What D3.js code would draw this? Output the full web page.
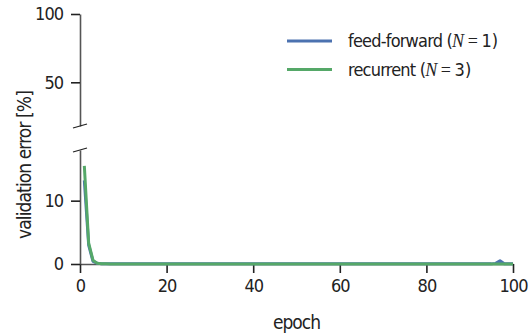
<!DOCTYPE html>
<html>
<head>
<meta charset="utf-8">
<script src="https://cdn.jsdelivr.net/npm/d3@7"></script>
<style>
  body { margin: 0; background: #fff; }
  svg text { font-family: "DejaVu Sans", sans-serif; font-stretch: condensed; fill: #222; }
</style>
</head>
<body>
<div id="chart"></div>
<script>
// validation error per epoch (1..100)
const feedForward = [
  13.2, 3.0, 0.4, 0.1, 0.05, 0.03, 0.02, 0.02, 0.02, 0.02,
  0.02, 0.02, 0.02, 0.02, 0.02, 0.02, 0.02, 0.02, 0.02, 0.02,
  0.02, 0.02, 0.02, 0.02, 0.02, 0.02, 0.02, 0.02, 0.02, 0.02,
  0.02, 0.02, 0.02, 0.02, 0.02, 0.02, 0.02, 0.02, 0.02, 0.02,
  0.02, 0.02, 0.02, 0.02, 0.02, 0.02, 0.02, 0.02, 0.02, 0.02,
  0.02, 0.02, 0.02, 0.02, 0.02, 0.02, 0.02, 0.02, 0.02, 0.02,
  0.02, 0.02, 0.02, 0.02, 0.02, 0.02, 0.02, 0.02, 0.02, 0.02,
  0.02, 0.02, 0.02, 0.02, 0.02, 0.02, 0.02, 0.02, 0.02, 0.02,
  0.02, 0.02, 0.02, 0.02, 0.02, 0.02, 0.02, 0.02, 0.02, 0.02,
  0.02, 0.02, 0.02, 0.02, 0.02, 0.1, 0.5, 0.05, 0.02, 0.02
]
const recurrent = [
  15.5, 3.3, 0.6, 0.1, 0.03, 0.02, 0.01, 0.01, 0.01, 0.01,
  0.01, 0.01, 0.01, 0.01, 0.01, 0.01, 0.01, 0.01, 0.01, 0.01,
  0.01, 0.01, 0.01, 0.01, 0.01, 0.01, 0.01, 0.01, 0.01, 0.01,
  0.01, 0.01, 0.01, 0.01, 0.01, 0.01, 0.01, 0.01, 0.01, 0.01,
  0.01, 0.01, 0.01, 0.01, 0.01, 0.01, 0.01, 0.01, 0.01, 0.01,
  0.01, 0.01, 0.01, 0.01, 0.01, 0.01, 0.01, 0.01, 0.01, 0.01,
  0.01, 0.01, 0.01, 0.01, 0.01, 0.01, 0.01, 0.01, 0.01, 0.01,
  0.01, 0.01, 0.01, 0.01, 0.01, 0.01, 0.01, 0.01, 0.01, 0.01,
  0.01, 0.01, 0.01, 0.01, 0.01, 0.01, 0.01, 0.01, 0.01, 0.01,
  0.01, 0.01, 0.01, 0.01, 0.01, 0.01, 0.01, 0.01, 0.01, 0.01
]
const xTicks = [0, 20, 40, 60, 80, 100]
const yTicksUpper = [50, 100]
const yTicksLower = [0, 10]
const seriesNames = ['feed-forward', 'recurrent']
const seriesN = [1, 3]
const colors = ['#4c72b0', '#55a868']

const width = 529
const height = 336
const left = 80
const right = 513

const svg = d3.select('#chart').append('svg')
  .attr('width', width)
  .attr('height', height)

const xScale = d3.scaleLinear().domain([0, 100]).range([left, right])
// broken y axis: two panels with different scales
const yUpper = d3.scaleLinear().domain([18, 100]).range([126, 14])
const yLower = d3.scaleLinear().domain([0, 18]).range([264, 150])

const styleAxis = (g) => {
  g.select('.domain').attr('stroke', '#555').attr('stroke-width', 1.6)
  g.selectAll('.tick line').attr('stroke', '#222').attr('stroke-width', 1.6)
  g.selectAll('.tick text').attr('font-size', 18).style('font-family', null)
    .attr('letter-spacing', -1)
}

svg.append('g')
  .attr('transform', `translate(0, ${yLower(0)})`)
  .call(d3.axisBottom(xScale).tickValues(xTicks).tickSize(9).tickSizeOuter(0).tickPadding(6))
  .call(styleAxis)

svg.append('g')
  .attr('transform', `translate(${left}, 0)`)
  .call(d3.axisLeft(yUpper).tickValues(yTicksUpper).tickSize(9).tickSizeOuter(0).tickPadding(8))
  .call(styleAxis)

svg.append('g')
  .attr('transform', `translate(${left}, 0)`)
  .call(d3.axisLeft(yLower).tickValues(yTicksLower).tickSize(9).tickSizeOuter(0).tickPadding(8))
  .call(styleAxis)

// break marks
const breaks = [yUpper(18), yLower(18)]
svg.selectAll('.break')
  .data(breaks)
  .enter()
  .append('line')
  .attr('x1', left - 7)
  .attr('x2', left + 7)
  .attr('y1', (d) => d + 2)
  .attr('y2', (d) => d - 2)
  .attr('stroke', '#222')
  .attr('stroke-width', 1.3)

// lines
const line = d3.line()
  .x((d, i) => xScale(i + 1))
  .y((d) => yLower(d))

svg.selectAll('.series')
  .data([feedForward, recurrent])
  .enter()
  .append('path')
  .attr('d', line)
  .attr('fill', 'none')
  .attr('stroke', (d, i) => colors[i])
  .attr('stroke-width', 3)
  .attr('stroke-linejoin', 'round')

// axis labels
svg.append('text')
  .attr('x', (left + right) / 2)
  .attr('y', 329)
  .attr('text-anchor', 'middle')
  .attr('font-size', 19)
  .attr('letter-spacing', -1)
  .text('epoch')

svg.append('text')
  .attr('transform', 'translate(31, 165) rotate(-90)')
  .attr('text-anchor', 'middle')
  .attr('font-size', 19)
  .attr('letter-spacing', -0.9)
  .text('validation error [%]')

// legend
const legend = svg.append('g')
const rows = legend.selectAll('g')
  .data(seriesNames)
  .enter()
  .append('g')
  .attr('transform', (d, i) => `translate(287, ${41 + i * 28.6})`)

rows.append('line')
  .attr('x1', 0)
  .attr('x2', 45)
  .attr('stroke', (d, i) => colors[i])
  .attr('stroke-width', 3)

const label = rows.append('text')
  .attr('x', 61)
  .attr('y', 6)
  .attr('font-size', 18)
label.append('tspan').attr('letter-spacing', -0.8).text((d) => d + ' (')
label.append('tspan')
  .style('font-family', '"Liberation Serif", "DejaVu Serif", serif')
  .style('font-style', 'italic')
  .style('font-stretch', 'normal')
  .text('N')
label.append('tspan')
  .style('font-family', '"Liberation Serif", "DejaVu Serif", serif')
  .style('font-stretch', 'normal')
  .attr('xml:space', 'preserve')
  .text('\u2009=\u2009')
label.append('tspan').text((d, i) => seriesN[i] + ')')
</script>
</body>
</html>
